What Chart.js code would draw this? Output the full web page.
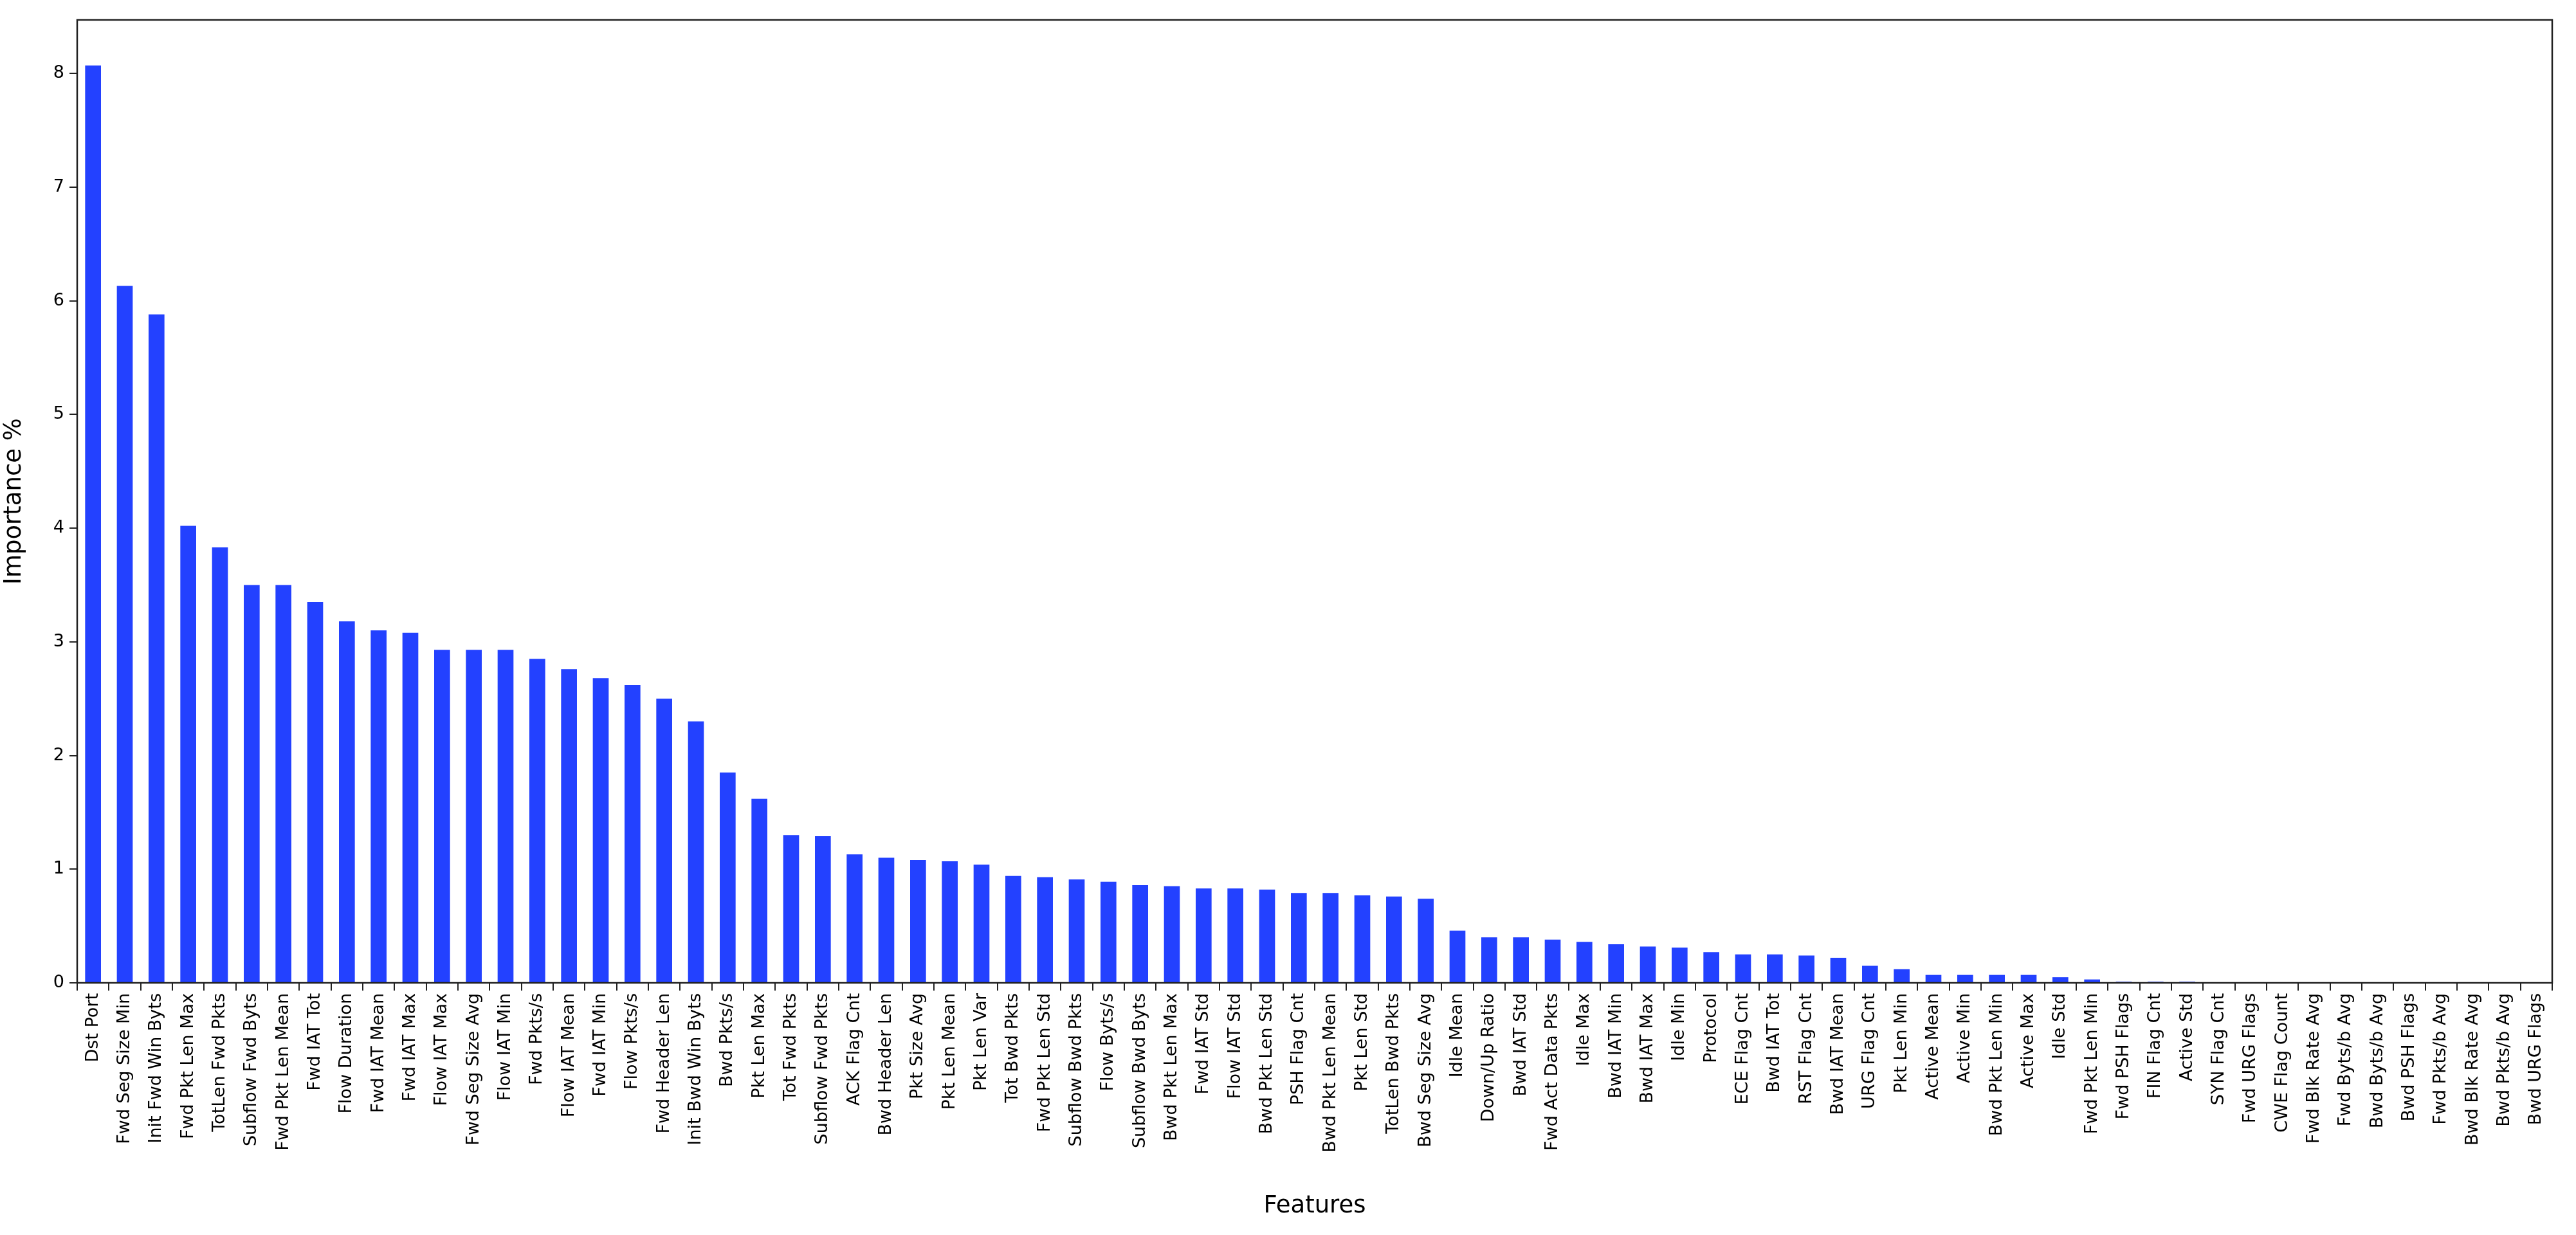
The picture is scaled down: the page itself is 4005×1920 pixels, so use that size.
<!DOCTYPE html>
<html>
<head>
<meta charset="utf-8">
<script src="https://cdn.jsdelivr.net/npm/chart.js@4"></script>
<style>
  html, body { margin: 0; padding: 0; background: #fff; }
  #wrap { width: 4005px; height: 1920px; }
</style>
</head>
<body>
<div id="wrap"><canvas id="chart"></canvas></div>
<script>
const features = ['Dst Port', 'Fwd Seg Size Min', 'Init Fwd Win Byts', 'Fwd Pkt Len Max', 'TotLen Fwd Pkts',
    'Subflow Fwd Byts', 'Fwd Pkt Len Mean', 'Fwd IAT Tot', 'Flow Duration', 'Fwd IAT Mean', 'Fwd IAT Max',
    'Flow IAT Max', 'Fwd Seg Size Avg', 'Flow IAT Min', 'Fwd Pkts/s', 'Flow IAT Mean', 'Fwd IAT Min',
    'Flow Pkts/s', 'Fwd Header Len', 'Init Bwd Win Byts', 'Bwd Pkts/s', 'Pkt Len Max', 'Tot Fwd Pkts',
    'Subflow Fwd Pkts', 'ACK Flag Cnt', 'Bwd Header Len', 'Pkt Size Avg', 'Pkt Len Mean', 'Pkt Len Var',
    'Tot Bwd Pkts', 'Fwd Pkt Len Std', 'Subflow Bwd Pkts', 'Flow Byts/s', 'Subflow Bwd Byts', 'Bwd Pkt Len Max',
    'Fwd IAT Std', 'Flow IAT Std', 'Bwd Pkt Len Std', 'PSH Flag Cnt', 'Bwd Pkt Len Mean', 'Pkt Len Std',
    'TotLen Bwd Pkts', 'Bwd Seg Size Avg', 'Idle Mean', 'Down/Up Ratio', 'Bwd IAT Std', 'Fwd Act Data Pkts',
    'Idle Max', 'Bwd IAT Min', 'Bwd IAT Max', 'Idle Min', 'Protocol', 'ECE Flag Cnt', 'Bwd IAT Tot',
    'RST Flag Cnt', 'Bwd IAT Mean', 'URG Flag Cnt', 'Pkt Len Min', 'Active Mean', 'Active Min',
    'Bwd Pkt Len Min', 'Active Max', 'Idle Std', 'Fwd Pkt Len Min', 'Fwd PSH Flags', 'FIN Flag Cnt',
    'Active Std', 'SYN Flag Cnt', 'Fwd URG Flags', 'CWE Flag Count', 'Fwd Blk Rate Avg', 'Fwd Byts/b Avg',
    'Bwd Byts/b Avg', 'Bwd PSH Flags', 'Fwd Pkts/b Avg', 'Bwd Blk Rate Avg', 'Bwd Pkts/b Avg', 'Bwd URG Flags'];

const importance = [8.07, 6.13, 5.88, 4.02, 3.83, 3.50, 3.50, 3.35, 3.18, 3.10, 3.08,
    2.93, 2.93, 2.93, 2.85, 2.76, 2.68, 2.62, 2.50, 2.30, 1.85, 1.62, 1.30,
    1.29, 1.13, 1.10, 1.08, 1.07, 1.04, 0.94, 0.93, 0.91, 0.89, 0.86, 0.85,
    0.83, 0.83, 0.82, 0.79, 0.79, 0.77, 0.76, 0.74, 0.46, 0.40, 0.40, 0.38,
    0.36, 0.34, 0.32, 0.31, 0.27, 0.25, 0.25, 0.24, 0.22, 0.15, 0.12, 0.07, 0.07,
    0.07, 0.07, 0.05, 0.03, 0.01, 0.01, 0.01, 0, 0, 0, 0, 0,
    0, 0, 0, 0, 0, 0];

const yTicks = [0, 1, 2, 3, 4, 5, 6, 7, 8];

// box around the plot area like matplotlib
const frame = {
    id: 'frame',
    afterDraw(chart) {
        const { ctx, chartArea: a } = chart;
        ctx.save();
        ctx.strokeStyle = '#222';
        ctx.lineWidth = 2.5;
        ctx.strokeRect(a.left, a.top, a.right - a.left, a.bottom - a.top);
        ctx.restore();
    }
};

new Chart(document.getElementById('chart'), {
    type: 'bar',
    data: {
        labels: features,
        datasets: [{
            data: importance,
            backgroundColor: '#2341ff',
            categoryPercentage: 1,
            barPercentage: 0.5
        }]
    },
    options: {
        responsive: true,
        maintainAspectRatio: false,
        devicePixelRatio: 1,
        animation: false,
        layout: { padding: { top: 31, right: 37, left: 0, bottom: 0 } },
        plugins: { legend: { display: false }, tooltip: { enabled: false } },
        scales: {
            x: {
                offset: true,
                grid: { display: true, drawOnChartArea: false, tickLength: 12, color: '#222', lineWidth: 2 },
                border: { display: false },
                ticks: {
                    autoSkip: false, minRotation: 90, maxRotation: 90, padding: 4,
                    color: '#000', font: { family: 'DejaVu Sans', size: 27 }
                },
                title: { display: true, text: 'Features', color: '#000', font: { family: 'DejaVu Sans', size: 37 }, padding: { top: 0, bottom: 22 } },
                afterFit(scale) { scale.height = 392; }
            },
            y: {
                min: 0, max: 8.47,
                afterBuildTicks(scale) { scale.ticks = yTicks.map(v => ({ value: v })); },
                grid: { display: true, drawOnChartArea: false, tickLength: 12, color: '#222', lineWidth: 2 },
                border: { display: false },
                ticks: { padding: 8, color: '#000', font: { family: 'DejaVu Sans', size: 27 } },
                title: { display: true, text: 'Importance %', color: '#000', font: { family: 'DejaVu Sans', size: 37 }, padding: { top: 0, bottom: 10 } },
                afterFit(scale) { scale.width = 120; }
            }
        }
    },
    plugins: [frame]
});
</script>
</body>
</html>
